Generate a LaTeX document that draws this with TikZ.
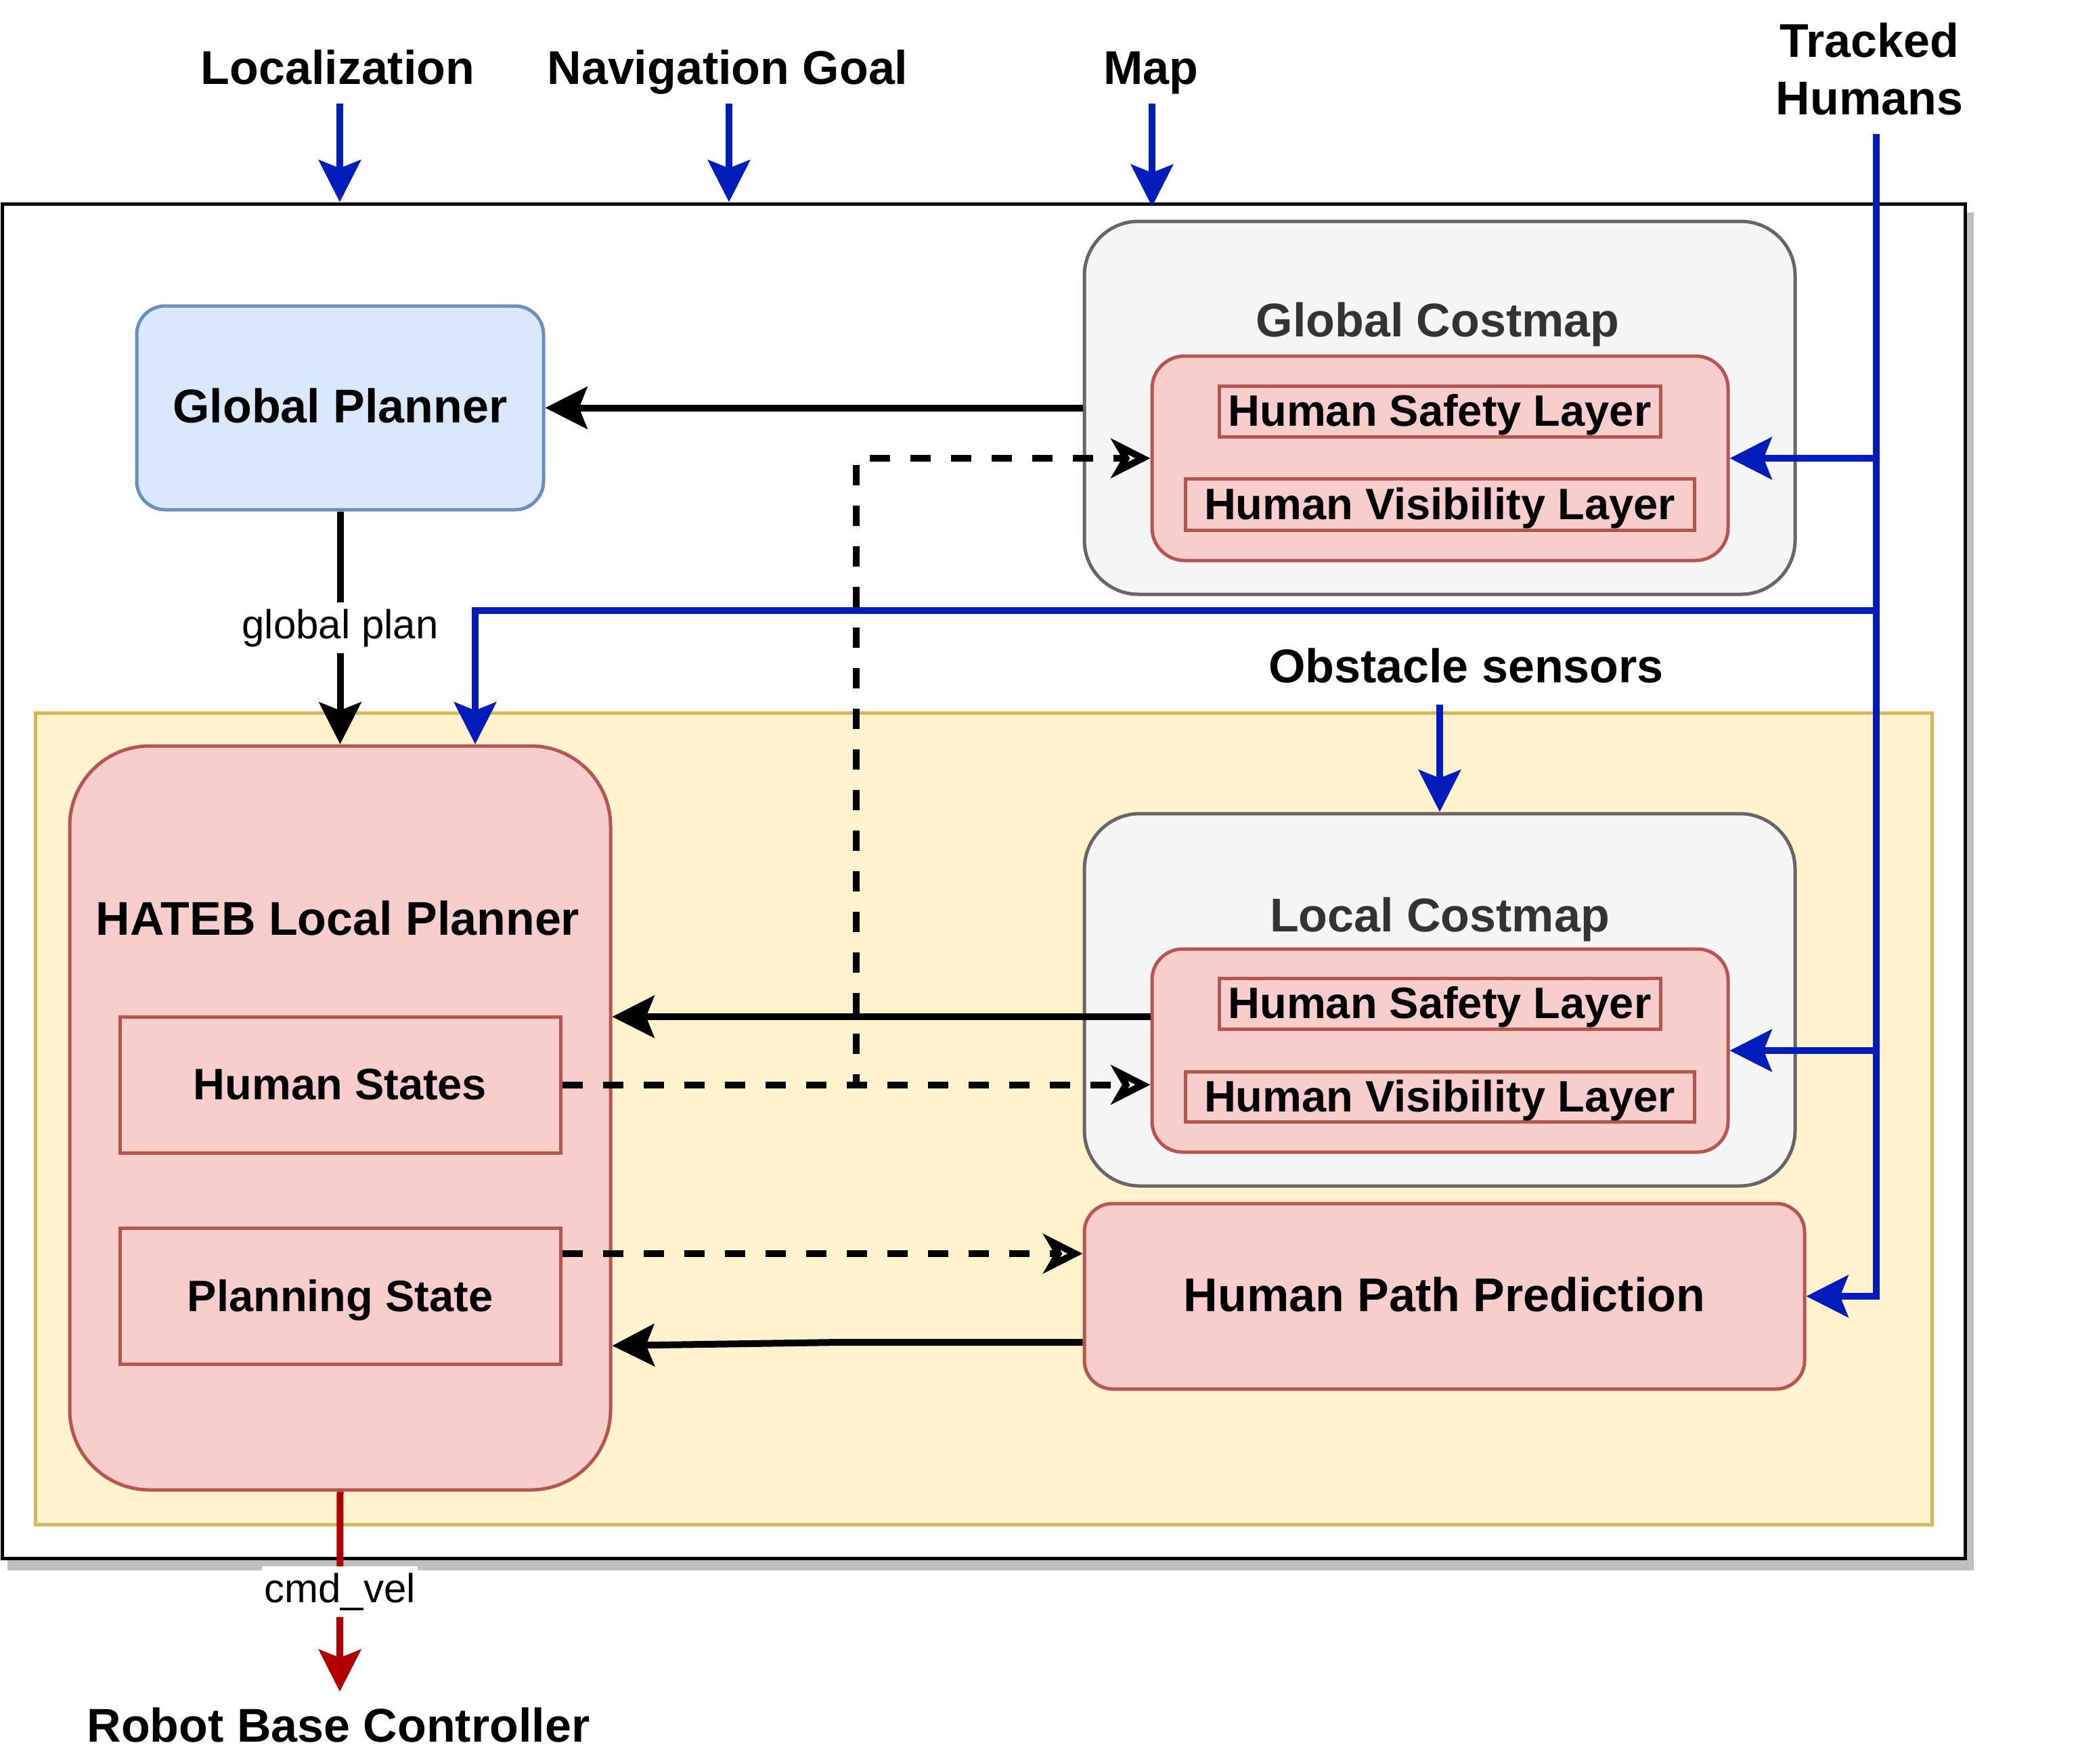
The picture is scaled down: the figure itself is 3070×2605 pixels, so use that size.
\documentclass[tikz,border=0pt]{standalone}
\usepackage{fontspec}
\setmainfont{Liberation Sans}
\usetikzlibrary{arrows.meta}
\definecolor{blueL}{HTML}{001DBC}
\definecolor{redL}{HTML}{B20000}
\definecolor{gpFill}{HTML}{DAE8FC}
\definecolor{gpDraw}{HTML}{6C8EBF}
\definecolor{cmFill}{HTML}{F5F5F5}
\definecolor{cmDraw}{HTML}{666666}
\definecolor{cmText}{HTML}{333333}
\definecolor{rdFill}{HTML}{F8CECC}
\definecolor{rdDraw}{HTML}{B85450}
\definecolor{ylFill}{HTML}{FFF2CC}
\definecolor{ylDraw}{HTML}{D6B656}
\definecolor{shadowC}{HTML}{BFBFBF}
\tikzset{
 bigf/.style={font=\fontsize{21}{25.5}\selectfont\bfseries},
 midf/.style={font=\fontsize{19.5}{23}\selectfont\bfseries},
 smallf/.style={font=\fontsize{18}{21}\selectfont},
 bbox/.style={bigf, draw, line width=1.5pt, inner sep=0pt, text height=16.2pt, text depth=3pt},
 mbox/.style={midf, draw, line width=1.5pt, inner sep=0pt, text height=15pt, text depth=1.8pt},
 plainbox/.style={draw, line width=1.5pt, inner sep=0pt},
 lbl/.style={bigf, inner sep=0pt, anchor=base},
 redbox/.style={fill=rdFill, draw=rdDraw},
 cmbox/.style={fill=cmFill, draw=cmDraw},
 arr/.style={line width=3pt, -{Stealth[length=18.6pt,width=18.6pt,inset=3.6pt]}},
 blarr/.style={arr, color=blueL},
 rdarr/.style={arr, color=redL},
 darr/.style={line width=3pt, dash pattern=on 9pt off 9pt, -{Stealth[open,fill=white,length=17.5pt,width=17.5pt,inset=5pt]}},
 edgelbl/.style={smallf, fill=white, text=black, inner xsep=1pt, inner ysep=3pt}
}
\begin{document}
\begin{tikzpicture}[x=0.3pt,y=-0.3pt]
\useasboundingbox (0,0) rectangle (3070,2605);
% outer container with shadow
\fill[shadowC] (10.5,313.5) rectangle (2915.5,2319.5);
\node[plainbox, fill=white, minimum width=870pt, minimum height=600.3pt] (outer) at (1453,1301.5) {};
\node[plainbox, draw=ylDraw, fill=ylFill, minimum width=840.6pt, minimum height=359.7pt] (yel) at (1453,1652.5) {};

% global planner
\node[bbox, fill=gpFill, draw=gpDraw, minimum width=180.3pt, minimum height=90.3pt, rounded corners=12.6pt] (gp) at (502.5,602.5) {Global Planner};

% global costmap
\node[plainbox, cmbox, minimum width=315pt, minimum height=165.3pt, rounded corners=24pt] (gc) at (2127,602.5) {};
\node[lbl, text=cmText] (gct) at (2124,497) {Global Costmap};
\node[plainbox, redbox, minimum width=255.3pt, minimum height=90.6pt, rounded corners=14.4pt] (gcin) at (2127.5,677) {};
\node[mbox, redbox, minimum width=195.6pt, minimum height=22.5pt] (gsafe) at (2127,607.5) {Human Safety Layer};
\node[mbox, redbox, minimum width=225.6pt, minimum height=22.8pt] (gvis) at (2127,745) {Human Visibility Layer};

% local costmap
\node[plainbox, cmbox, minimum width=315pt, minimum height=165pt, rounded corners=24.6pt] (lc) at (2127,1477) {};
\node[lbl, text=cmText] (lct) at (2127,1376) {Local Costmap};
\node[plainbox, redbox, minimum width=255.3pt, minimum height=90pt, rounded corners=13.5pt] (lcin) at (2127.5,1552) {};
\node[mbox, redbox, minimum width=195.6pt, minimum height=22.5pt] (lsafe) at (2127,1482.5) {Human Safety Layer};
\node[mbox, redbox, minimum width=225.6pt, minimum height=22.2pt] (lvis) at (2127,1620) {Human Visibility Layer};

% human path prediction
\node[bbox, redbox, minimum width=319.2pt, minimum height=82.2pt, rounded corners=12.6pt] (hpp) at (2134,1915) {Human Path Prediction};

% HATEB local planner
\node[plainbox, redbox, minimum width=239.7pt, minimum height=329.7pt, rounded corners=35.4pt] (hateb) at (502.5,1651.5) {};
\node[lbl] (hatebt) at (499,1381) {HATEB Local Planner};
\node[mbox, redbox, minimum width=195.3pt, minimum height=60.3pt] (hs) at (502.5,1602.5) {Human States};
\node[mbox, redbox, minimum width=195.3pt, minimum height=60.3pt] (ps) at (502.5,1915) {Planning State};

% free labels
\node[lbl] (loc) at (499,124) {Localization};
\node[lbl] (nav) at (1075,124) {Navigation Goal};
\node[lbl] (map) at (1700,124) {Map};
\node[bigf, align=center, inner sep=0pt] (th) at (2762,102) {Tracked\\Humans};
\node[lbl] (obs) at (2166,1008) {Obstacle sensors};
\node[lbl] (rbc) at (500,2573) {Robot Base Controller};

% connector end points
\coordinate (locS) at (502,153);
\coordinate (navS) at (1077,153);
\coordinate (mapS) at (1702,153);
\coordinate (thS) at (2772,198);
\coordinate (obsS) at (2127,1041);
\coordinate (hbJ) at (702,902);
\coordinate (dv) at (1265,677);
\coordinate (rbcT) at (502,2499);

% blue inputs
\draw[blarr] (locS) -- (locS |- outer.north);
\draw[blarr] (navS) -- (navS |- outer.north);
\draw[blarr] (mapS) -- ([yshift=-2pt]mapS |- outer.north);
\draw[blarr] (obsS) -- (obsS |- lc.north);
\draw[blarr] (thS) -- (thS |- hpp.east) -- (hpp.east);
\draw[blarr] (thS |- gcin.east) -- (gcin.east);
\draw[blarr] (thS |- lcin.east) -- (lcin.east);
\draw[blarr] (thS |- hbJ) -- (hbJ) -- (hbJ |- hateb.north);

% dashed data flows
\draw[darr] (hs.east) -- (dv |- hs.east) -- (dv) -- (gcin.west);
\draw[darr] (hs.east) -- (hs.east -| lcin.west);
\draw[darr] ([yshift=18.9pt]ps.east) -- ([yshift=18.9pt]ps.east -| hpp.west);

% black flows
\draw[arr] (gc.west) -- (gp.east);
\draw[arr] (gp.south) -- (gp.south |- hateb.north) node[midway, edgelbl] (gpl) {global plan};
\draw[arr] ([yshift=15pt]lcin.west) -- ([yshift=15pt]lcin.west -| hateb.east);
\draw[arr] ([yshift=-20.4pt]hpp.west) -- ++(-359,0) -- ([yshift=-21.9pt]hpp.west -| hateb.east);

% output
\draw[rdarr] (hateb.south) -- (rbcT) node[midway, edgelbl] (cmd) {cmd\_vel};
\end{tikzpicture}
\end{document}
